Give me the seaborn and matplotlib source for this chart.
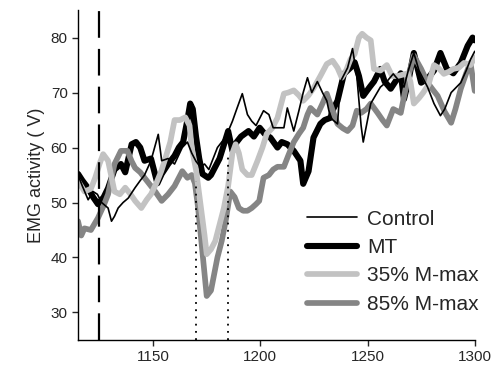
import numpy as np
import pandas as pd
import matplotlib
matplotlib.use("Agg")
import matplotlib.pyplot as plt
import seaborn as sns

# ---------------- data ----------------
control_t = [1115, 1117, 1119.7, 1122, 1124, 1126, 1129, 1130.6, 1132, 1133.7, 1136, 1138.4, 1141.6, 1144,
             1146, 1149, 1152.4, 1154, 1157, 1160, 1163.6, 1166, 1168, 1170, 1172, 1174, 1176,
             1178, 1180, 1182, 1184, 1187, 1189, 1191.6, 1194, 1196, 1198, 1201.5, 1204, 1206, 1209,
             1211, 1212.6, 1215.6, 1218, 1220, 1222, 1224, 1226.6, 1229, 1231, 1232.7, 1236, 1237.4, 1240.7,
             1243, 1245, 1247, 1248, 1251.5, 1256, 1259, 1262, 1265, 1267, 1269, 1271.6, 1274, 1278,
             1281, 1284, 1286, 1289, 1293.5, 1296, 1298, 1300]
control_v = [55, 53, 50.5, 52, 51.5, 50, 49, 46.6, 47.5, 49, 50, 50.8, 52.7, 54,
             55, 57.6, 62.4, 57.6, 58, 57, 60, 61, 59, 57.5, 56.5, 57, 56,
             58, 60, 61, 62, 64.8, 67, 69.8, 66, 64.8, 64, 66.7, 66, 63.6, 63.6,
             63.6, 67.2, 63, 66.7, 70, 72.7, 70, 72, 70, 68.5, 65.4, 64.3, 72, 74.5,
             78, 73, 64, 61, 68, 71, 72, 73.4, 72, 71, 74, 77.2, 74, 71,
             68, 65.8, 67, 70, 71.8, 74, 76, 77.5]

mt_t = [1115, 1117, 1119.7, 1122, 1124.3, 1127, 1129, 1132, 1135, 1137, 1140, 1142, 1144, 1146,
        1149, 1152, 1154, 1157, 1160, 1162, 1164, 1166, 1167.3, 1168.5, 1170, 1171.5, 1173, 1175.7,
        1177, 1179, 1181, 1183, 1185, 1187, 1189, 1191, 1194.5, 1197, 1199.7, 1202, 1204.7, 1208,
        1210, 1212.6, 1215.6, 1218.7, 1220, 1222.5, 1224.8, 1228, 1230, 1232.7, 1234, 1236, 1239,
        1242, 1244, 1246, 1248, 1251, 1253, 1256, 1258, 1260.8, 1263, 1265.5, 1267, 1269, 1271.6,
        1275, 1278, 1281, 1284, 1287, 1290, 1293.5, 1296.7, 1299, 1300]
mt_v = [55.2, 54, 52.6, 51, 49.7, 51, 52.6, 56, 57, 55.5, 60.6, 61, 60, 57.6,
        58, 53.5, 55.2, 57, 58.5, 60, 61, 65, 68, 67, 62, 58, 55.2, 54.5,
        55, 56.5, 58, 60.5, 63, 59.4, 61, 62, 63, 62, 63.6, 62.5, 61.8, 60,
        61, 60.6, 59.4, 57.6, 53.4, 55.7, 61.8, 64.3, 65, 65.4, 67, 68.5, 73.4,
        74.5, 75.5, 73, 69.4, 71, 72, 74.3, 72, 70.7, 72, 73.5, 68.8, 72, 77.2,
        71.8, 72.5, 74, 77.2, 74.3, 73.5, 75.4, 78.5, 80, 79.5]

m35_t = [1115, 1118, 1121, 1123, 1125, 1126.7, 1129, 1132, 1134.5, 1137, 1139.5, 1141.6, 1144.5, 1147,
         1149, 1151.5, 1153.8, 1155.7, 1158, 1160, 1162.5, 1165, 1167, 1168, 1170, 1172, 1174, 1175,
         1177, 1179, 1181, 1183, 1185, 1187, 1188.5, 1190, 1191.6, 1194, 1196, 1198.6, 1201, 1203,
         1205.5, 1208, 1211, 1213, 1215.6, 1218, 1220, 1222.5, 1225, 1228, 1231, 1233.7, 1236, 1238,
         1240, 1242, 1244, 1246, 1247.5, 1249.5, 1251.5, 1253, 1256, 1259, 1261.5, 1264, 1268.7, 1270,
         1271.6, 1274, 1276, 1278.5, 1281, 1283, 1285.6, 1288, 1290, 1292.5, 1295, 1298, 1300]
m35_v = [53.9, 52, 52.5, 54.5, 57, 58.8, 57.6, 52, 51.5, 52.7, 51.5, 50.3, 49, 50.5,
         51.5, 53.5, 55.7, 58, 61, 65, 65, 65.5, 64, 60, 56, 50, 44, 40.6,
         41.5, 43, 46, 49, 53, 59, 60.6, 59, 56, 55, 55, 57.5, 60, 62.5,
         63.5, 65.4, 69.8, 70, 70.4, 69.5, 68.5, 69.5, 70.9, 73, 75.2, 75.8, 74.5, 72.7,
         74, 76, 77, 80, 80.7, 80, 79.5, 74.3, 74, 75, 73, 73, 73.5, 72,
         68, 69, 70, 71.5, 75, 74.5, 73.4, 73.8, 74.3, 74.5, 75.4, 75, 76.4]

m85_t = [1115, 1116.5, 1118, 1121, 1124.3, 1127, 1129, 1132, 1135, 1138, 1140, 1141.6, 1144, 1146,
         1149, 1151, 1154, 1157, 1160, 1163.6, 1166, 1168, 1169.5, 1171, 1172.5, 1174, 1175,
         1177, 1179, 1180, 1182, 1184, 1186, 1188, 1190, 1192, 1194, 1196, 1198, 1199.5, 1201.5, 1204,
         1206, 1208, 1211, 1213, 1215.6, 1218, 1220, 1222, 1223.4, 1226.6, 1229, 1231, 1233.5, 1236,
         1238.5, 1240.7, 1243, 1245, 1247, 1249.5, 1251.5, 1254.7, 1257, 1259, 1262, 1265.5, 1268.7,
         1271.6, 1275, 1278, 1280.5, 1282.7, 1286, 1289, 1291, 1293.5, 1296, 1298, 1300]
m85_v = [46.6, 44, 45.3, 45, 47.2, 49.5, 51.5, 57, 59.4, 59.4, 57.5, 56.3, 55.5, 54.5,
         53, 52, 50.3, 51.5, 53, 55.7, 54.5, 55, 53.5, 49, 43, 37, 33,
         34, 38, 40, 43, 47, 52, 51, 49, 48.5, 48.5, 49, 49.7, 50.3, 54.5, 55,
         56, 56.5, 56.5, 58.5, 61, 62.5, 63.6, 66, 67.2, 66, 68, 69.8, 67, 64.3,
         63.5, 63, 64, 66.7, 66.3, 67, 68, 66.3, 65, 64, 67, 66.3, 72.5,
         76.7, 74.3, 71.8, 70.5, 69.4, 66.5, 64.5, 67, 70.7, 73.5, 75.4, 70.3]

series_names = ["Control", "MT", "35% M-max", "85% M-max"]
stim_time = 1125
marker_times = [1170, 1185]
marker_tops = [54, 59]
x_ticks = [1150, 1200, 1250, 1300]
y_ticks = [30, 40, 50, 60, 70, 80]

# ---------------- build frame ----------------
frames = []
for name, t, v in zip(series_names, [control_t, mt_t, m35_t, m85_t], [control_v, mt_v, m35_v, m85_v]):
    frames.append(pd.DataFrame({"time": t, "emg": v, "series": name}))
df = pd.concat(frames, ignore_index=True)

styles = {
    "Control": dict(color="#000000", lw=1.2),
    "MT": dict(color="#000000", lw=4.4),
    "35% M-max": dict(color="#c2c2c2", lw=4.1),
    "85% M-max": dict(color="#858585", lw=4.1),
}

sns.set_style("ticks")
plt.rcParams["font.family"] = ["Liberation Sans", "DejaVu Sans"]

fig = plt.figure(figsize=(4.94, 3.74), dpi=100)
ax = fig.add_axes([0.158, 0.091, 0.803, 0.882])

draw_order = ["MT", "85% M-max", "35% M-max", "Control"]
handles = {}
for name in draw_order:
    sub = df[df["series"] == name]
    sns.lineplot(data=sub, x="time", y="emg", ax=ax, color=styles[name]["color"],
                 linewidth=styles[name]["lw"], estimator=None, sort=False, legend=False)
    handles[name] = ax.lines[-1]

ax.axvline(stim_time, color="black", lw=1.6, dashes=(12, 5), zorder=5)
ax.vlines(marker_times, 25, marker_tops, colors="black", linestyles=(0, (1, 3)), lw=1.3, zorder=5)

ax.set_xlim(1115, 1300)
ax.set_ylim(25, 85)
ax.set_xticks(x_ticks)
ax.set_yticks(y_ticks)
ax.tick_params(labelsize=11, direction="out", length=4, width=1)
ax.set_xlabel("")
ax.set_ylabel("EMG activity ( V)", fontsize=13)
for s in ["top", "right"]:
    ax.spines[s].set_visible(False)
for s in ["left", "bottom"]:
    ax.spines[s].set_color("black")
    ax.spines[s].set_linewidth(1.0)

leg = ax.legend([handles[n] for n in series_names], series_names, loc="upper left",
                bbox_to_anchor=(0.578, 0.395), frameon=False, fontsize=15,
                handlelength=2.4, handletextpad=0.48, labelspacing=0.45,
                borderpad=0, borderaxespad=0)

fig.savefig("out.png", dpi=100)
